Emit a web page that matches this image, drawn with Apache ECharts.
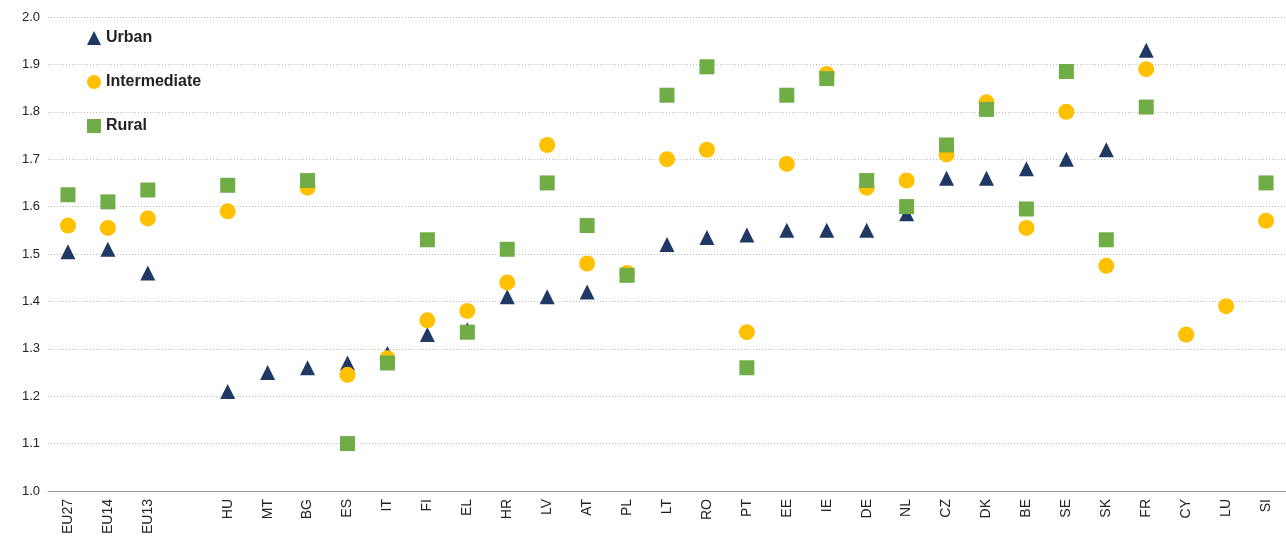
<!DOCTYPE html>
<html>
<head>
<meta charset="utf-8">
<script src="https://cdn.jsdelivr.net/npm/echarts@6/dist/echarts.min.js"></script>
</head>
<body style="margin:0">
<div id="main" style="width:1286px;height:546px;"></div>
<script>
var categories = ['EU27','EU14','EU13','','HU','MT','BG','ES','IT','FI','EL','HR','LV','AT','PL','LT','RO','PT','EE','IE','DE','NL','CZ','DK','BE','SE','SK','FR','CY','LU','SI'];
var urban = [1.505,1.51,1.46,null,1.21,1.25,1.26,1.27,1.29,1.33,1.34,1.41,1.41,1.42,1.46,1.52,1.535,1.54,1.55,1.55,1.55,1.585,1.66,1.66,1.68,1.70,1.72,1.93,null,null,null];
var intermediate = [1.56,1.555,1.575,null,1.59,null,1.64,1.245,1.28,1.36,1.38,1.44,1.73,1.48,1.46,1.70,1.72,1.335,1.69,1.88,1.64,1.655,1.71,1.82,1.555,1.80,1.475,1.89,1.33,1.39,1.57];
var rural = [1.625,1.61,1.635,null,1.645,null,1.655,1.10,1.27,1.53,1.335,1.51,1.65,1.56,1.455,1.835,1.895,1.26,1.835,1.87,1.655,1.60,1.73,1.805,1.595,1.885,1.53,1.81,null,null,1.65];

var myChart = echarts.init(document.getElementById('main'));
var option = {
    backgroundColor: '#fff',
    textStyle: {fontFamily: 'Arial, Liberation Sans'},
    grid: {left: 48, right: 0, top: 17, bottom: 55},
    legend: {
        orient: 'vertical', left: 82, top: 25, itemGap: 28,
        itemWidth: 14, itemHeight: 14,
        textStyle: {fontSize: 16, fontWeight: 'bold', color: '#222'},
        data: [{name:'Urban', icon:'triangle'}, {name:'Intermediate', icon:'circle'}, {name:'Rural', icon:'rect'}]
    },
    xAxis: {
        type: 'category', data: categories,
        axisLine: {lineStyle: {color: '#999'}},
        axisTick: {show: false},
        axisLabel: {rotate: 90, color: '#222', fontSize: 14, interval: 0}
    },
    yAxis: {
        type: 'value', min: 1.0, max: 2.0, interval: 0.1,
        axisLabel: {formatter: function(v){return v.toFixed(1);}, color: '#222', fontSize: 13},
        splitLine: {lineStyle: {color: '#bbb', type: [1, 2]}}
    },
    series: [
        {name:'Urban', type:'scatter', symbol:'triangle', symbolSize:15, itemStyle:{color:'#1f3864', opacity:1}, data: urban},
        {name:'Intermediate', type:'scatter', symbol:'circle', symbolSize:16, itemStyle:{color:'#ffc000', opacity:1}, data: intermediate},
        {name:'Rural', type:'scatter', symbol:'rect', symbolSize:15, itemStyle:{color:'#70ad47', opacity:1}, data: rural}
    ]
};
myChart.setOption(option);
</script>
</body>
</html>
